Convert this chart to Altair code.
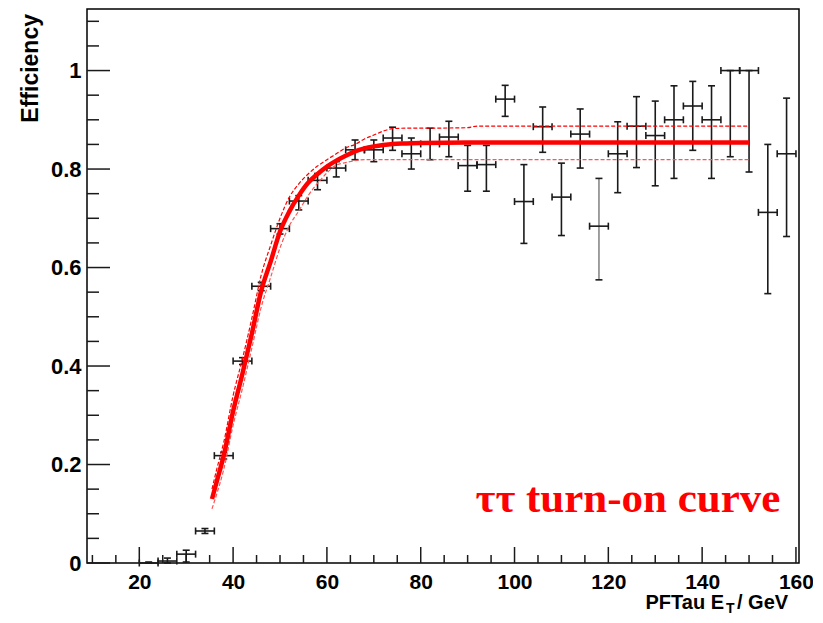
import altair as alt
import pandas as pd

# ---- measured efficiency points (bin centre, value, lower / upper error end) ----
et = [22, 26, 30, 34, 38, 42, 46, 50, 54, 58, 62, 66, 70, 74, 78, 82, 86, 90, 94, 98,
      102, 106, 110, 114, 118, 122, 126, 130, 134, 138, 142, 146, 150, 154, 158]
eff = [0.0, 0.004, 0.018, 0.065, 0.218, 0.410, 0.562, 0.679, 0.735, 0.777, 0.802, 0.839,
       0.839, 0.863, 0.831, 0.851, 0.865, 0.807, 0.809, 0.942, 0.734, 0.886, 0.743, 0.871,
       0.684, 0.831, 0.887, 0.868, 0.900, 0.928, 0.900, 1.0, 1.0, 0.712, 0.831]
eff_lo = [0.0, 0.0, 0.002, 0.060, 0.211, 0.403, 0.553, 0.668, 0.717, 0.758, 0.784, 0.819,
          0.815, 0.838, 0.800, 0.819, 0.825, 0.755, 0.755, 0.907, 0.649, 0.834, 0.665, 0.802,
          0.575, 0.752, 0.803, 0.766, 0.781, 0.838, 0.781, 0.825, 0.794, 0.547, 0.663]
eff_hi = [0.002, 0.010, 0.026, 0.070, 0.225, 0.417, 0.570, 0.689, 0.746, 0.791, 0.815, 0.859,
          0.859, 0.885, 0.863, 0.883, 0.897, 0.848, 0.848, 0.970, 0.809, 0.926, 0.812, 0.922,
          0.781, 0.896, 0.947, 0.938, 0.969, 0.978, 0.969, 1.0, 1.0, 0.850, 0.944]
half_bin = 2.0

# ---- fitted turn-on curve and its uncertainty band ----
fit_x = [35.5, 36.5, 38, 40, 42, 44, 46, 48, 50, 52, 54, 56, 58, 60, 62, 64, 66, 68, 70,
         72, 74, 77, 80, 90, 92, 150]
fit_y = [0.130, 0.165, 0.218, 0.308, 0.385, 0.466, 0.553, 0.612, 0.673, 0.714, 0.746, 0.772,
         0.790, 0.805, 0.817, 0.827, 0.836, 0.842, 0.846, 0.849, 0.851, 0.852, 0.853, 0.854,
         0.854, 0.854]
band_up = [0.150, 0.190, 0.245, 0.340, 0.415, 0.497, 0.585, 0.645, 0.700, 0.743, 0.770, 0.790,
           0.806, 0.819, 0.831, 0.843, 0.850, 0.861, 0.869, 0.877, 0.882, 0.883, 0.883, 0.884,
           0.887, 0.887]
band_dn = [0.110, 0.140, 0.190, 0.280, 0.355, 0.437, 0.520, 0.580, 0.640, 0.685, 0.715, 0.746,
           0.771, 0.792, 0.808, 0.813, 0.817, 0.819, 0.819, 0.819, 0.819, 0.819, 0.819, 0.819,
           0.819, 0.819]

# ---- axis tick values ----
x_major = [20, 40, 60, 80, 100, 120, 140, 160]
x_minor = [10, 15, 25, 30, 35, 45, 50, 55, 65, 70, 75, 85, 90, 95, 105, 110, 115, 125, 130,
           135, 145, 150, 155]
y_major = [0, 0.2, 0.4, 0.6, 0.8, 1.0]
y_minor = [0.05, 0.1, 0.15, 0.25, 0.3, 0.35, 0.45, 0.5, 0.55, 0.65, 0.7, 0.75, 0.85, 0.9,
           0.95, 1.05, 1.1]

label_text = "ττ turn-on curve"
y_title = "Efficiency"

W, H = 712, 554
XDOM = [8.85, 160.65]
YDOM = [0.0, 1.125]
INK = "#1a1a1a"
FONT = "Liberation Sans"

xscale = alt.Scale(domain=XDOM, nice=False, zero=False)
yscale = alt.Scale(domain=YDOM, nice=False, zero=False)
xaxis = alt.Axis(values=x_major, ticks=False, domain=False, grid=False, title=None,
                 labelFont=FONT, labelFontSize=21, labelFontWeight="bold",
                 labelColor="black", labelPadding=8, labelFlush=False)
yaxis = alt.Axis(values=y_major, ticks=False, domain=False, grid=False, title=None,
                 format="~g", labelFont=FONT, labelFontSize=22, labelFontWeight="bold",
                 labelColor="black", labelPadding=6, labelFlush=False)


def X(f):
    return alt.X(f, type="quantitative", scale=xscale, axis=xaxis)


def Y(f):
    return alt.Y(f, type="quantitative", scale=yscale, axis=yaxis)


pts = pd.DataFrame({
    "x": et, "y": eff, "lo": eff_lo, "hi": eff_hi,
    "xl": [v - half_bin for v in et], "xh": [v + half_bin for v in et],
})
fit = pd.DataFrame({"x": fit_x, "y": fit_y, "up": band_up, "dn": band_dn})

base_pts = alt.Chart(pts)
vbar = base_pts.mark_rule(color=INK, strokeWidth=1.6).encode(
    x=X("x"), y=Y("lo"), y2="hi",
    color=alt.condition("datum.x == 118", alt.value("#888888"), alt.value(INK)))
hbar = base_pts.mark_rule(color=INK, strokeWidth=1.6).encode(x=X("xl"), x2="xh", y=Y("y"))
cap_lo = base_pts.mark_tick(orient="horizontal", size=7, thickness=1.6, color=INK,
                            opacity=1).encode(x=X("x"), y=Y("lo"))
cap_hi = base_pts.mark_tick(orient="horizontal", size=7, thickness=1.6, color=INK,
                            opacity=1).encode(x=X("x"), y=Y("hi"))
cap_l = base_pts.mark_tick(orient="vertical", size=7, thickness=1.6, color=INK,
                           opacity=1).encode(x=X("xl"), y=Y("y"))
cap_r = base_pts.mark_tick(orient="vertical", size=7, thickness=1.6, color=INK,
                           opacity=1).encode(x=X("xh"), y=Y("y"))

base_fit = alt.Chart(fit)
up_line = base_fit.mark_line(color="#ff0000", strokeWidth=1.2, strokeDash=[4, 2],
                             interpolate="monotone").encode(x=X("x"), y=Y("up"))
dn_line = base_fit.mark_line(color="#ff5555", strokeWidth=1.2, strokeDash=[4, 2],
                             interpolate="monotone").encode(x=X("x"), y=Y("dn"))
fit_line = base_fit.mark_line(color="#ff0000", strokeWidth=4.5,
                              interpolate="monotone").encode(x=X("x"), y=Y("y"))

# inward ROOT-style ticks
xt_major = alt.Chart(pd.DataFrame({"x": x_major})).mark_rule(color=INK, strokeWidth=1.5).encode(
    x=X("x"), y=alt.value(H), y2=alt.value(H - 16))
xt_minor = alt.Chart(pd.DataFrame({"x": x_minor})).mark_rule(color=INK, strokeWidth=1.5).encode(
    x=X("x"), y=alt.value(H), y2=alt.value(H - 8))
yt_major = alt.Chart(pd.DataFrame({"y": y_major})).mark_rule(color=INK, strokeWidth=1.5).encode(
    y=Y("y"), x=alt.value(0), x2=alt.value(23))
yt_minor = alt.Chart(pd.DataFrame({"y": y_minor})).mark_rule(color=INK, strokeWidth=1.5).encode(
    y=Y("y"), x=alt.value(0), x2=alt.value(12))

label = alt.Chart(pd.DataFrame({"t": [label_text]})).mark_text(
    font="Liberation Serif", fontSize=43, fontWeight="bold", color="#ff0000",
    align="center", baseline="alphabetic").encode(
    text="t:N", x=alt.value(541), y=alt.value(503))

ytitle = alt.Chart(pd.DataFrame({"t": [y_title]})).mark_text(
    font=FONT, fontSize=23, fontWeight="bold", color="black", angle=270,
    align="right", baseline="middle").encode(text="t:N", x=alt.value(-56), y=alt.value(5))

xt1 = alt.Chart(pd.DataFrame({"t": ["PFTau E"]})).mark_text(
    font=FONT, fontSize=20, fontWeight="bold", color="black",
    align="right", baseline="alphabetic").encode(text="t:N", x=alt.value(637), y=alt.value(600))
xt2 = alt.Chart(pd.DataFrame({"t": ["T"]})).mark_text(
    font=FONT, fontSize=14, fontWeight="bold", color="black",
    align="left", baseline="alphabetic").encode(text="t:N", x=alt.value(639), y=alt.value(604))
xt3 = alt.Chart(pd.DataFrame({"t": ["/ GeV"]})).mark_text(
    font=FONT, fontSize=20, fontWeight="bold", color="black",
    align="left", baseline="alphabetic").encode(text="t:N", x=alt.value(650), y=alt.value(600))

chart = alt.layer(
    vbar, hbar, cap_lo, cap_hi, cap_l, cap_r,
    up_line, dn_line, fit_line,
    xt_major, xt_minor, yt_major, yt_minor,
    label, ytitle, xt1, xt2, xt3,
).properties(
    width=W, height=H,
    padding={"left": 79, "top": 1, "right": 14, "bottom": 52},
    autosize=alt.AutoSizeParams(type="none"),
    background="white",
).configure_view(stroke="black", strokeWidth=1.5)

chart.save("out.html", embed_options={"renderer": "svg", "actions": False})
